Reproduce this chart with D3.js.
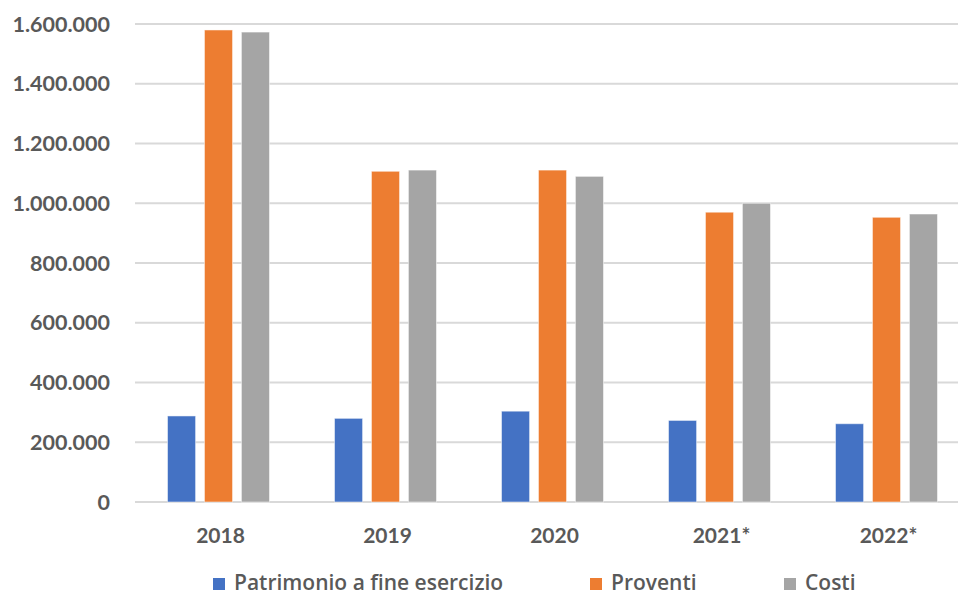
<!DOCTYPE html>
<html>
<head>
<meta charset="utf-8">
<script src="https://cdn.jsdelivr.net/npm/d3@7"></script>
<style>
  body { margin: 0; background: #fff; }
  text { font-family: Lato, "Open Sans", sans-serif; fill: #595959; }
  .leg text { font-family: "Open Sans", sans-serif; }
</style>
</head>
<body>
<div id="chart"></div>
<script>
// dati
let anni = ["2018", "2019", "2020", "2021*", "2022*"];
let serie = ["Patrimonio a fine esercizio", "Proventi", "Costi"];
let patrimonio = [288000, 280000, 304000, 273000, 262000];
let proventi = [1580000, 1107000, 1111000, 970000, 953000];
let costi = [1573000, 1111000, 1090000, 1000000, 964000];
let yTicks = [0, 200000, 400000, 600000, 800000, 1000000, 1200000, 1400000, 1600000];
let colori = ["#4472C4", "#ED7D31", "#A5A5A5"];

let width = 958, height = 596;
let mLeft = 135, mTop = 24, mBottom = 502;

let svg = d3.select("#chart").append("svg")
    .attr("width", width)
    .attr("height", height);

let y = d3.scaleLinear().domain([0, 1600000]).range([mBottom, mTop]);
let x = d3.scaleBand().domain(anni).range([mLeft, 970]);
let x1 = d3.scaleBand().domain(serie).range([x.bandwidth() / 2 - 51, x.bandwidth() / 2 + 51]).paddingInner(0.24);

let fmt = d3.formatLocale({ decimal: ",", thousands: ".", grouping: [3], currency: ["€", ""] }).format(",");

// griglia
svg.append("g").selectAll("line")
    .data(yTicks)
    .enter().append("line")
    .attr("x1", mLeft).attr("x2", width)
    .attr("y1", d => y(d)).attr("y2", d => y(d))
    .attr("stroke", "#D9D9D9")
    .attr("stroke-width", 2);

svg.append("g").selectAll("text")
    .data(yTicks)
    .enter().append("text")
    .attr("x", 110)
    .attr("y", d => y(d))
    .attr("dy", "0.36em")
    .attr("text-anchor", "end")
    .attr("font-size", 21.5)
    .attr("font-weight", "bold")
    .text(d => fmt(d));

let righe = anni.map((a, i) => ({ anno: a, valori: [patrimonio[i], proventi[i], costi[i]] }));

let gruppi = svg.append("g").selectAll("g")
    .data(righe)
    .enter().append("g")
    .attr("transform", d => "translate(" + x(d.anno) + ",0)");

gruppi.selectAll("rect")
    .data(d => d.valori.map((v, j) => ({ serie: serie[j], v: v, j: j })))
    .enter().append("rect")
    .attr("x", d => x1(d.serie))
    .attr("width", x1.bandwidth())
    .attr("y", d => y(d.v))
    .attr("height", d => mBottom - y(d.v))
    .attr("fill", d => colori[d.j])
    .attr("stroke", "#fff")
    .attr("stroke-opacity", 0.5)
    .attr("stroke-width", 1);

svg.append("g").selectAll("text")
    .data(anni)
    .enter().append("text")
    .attr("x", d => x(d) + x.bandwidth() / 2 + 2)
    .attr("y", 543)
    .attr("text-anchor", "middle")
    .attr("font-size", 21)
    .attr("font-weight", "bold")
    .text(d => d);

// legenda
let legX = [213, 590, 784];
let leg = svg.append("g").attr("class", "leg").selectAll("g")
    .data(serie)
    .enter().append("g")
    .attr("transform", (d, i) => "translate(" + legX[i] + ",578)");

leg.append("rect")
    .attr("width", 12).attr("height", 12)
    .attr("fill", (d, i) => colori[i]);

leg.append("text")
    .attr("x", 21)
    .attr("y", 12)
    .attr("font-size", 21)
    .attr("font-weight", 600)
    .text(d => d);
</script>
</body>
</html>
